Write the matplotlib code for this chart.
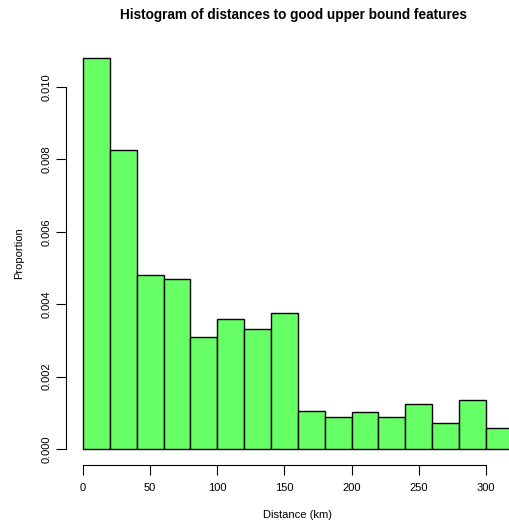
import numpy as np
import matplotlib
matplotlib.use("Agg")
import matplotlib.pyplot as plt

plt.rcParams['font.family'] = ['Liberation Sans', 'DejaVu Sans']

# histogram bins (km) and density values
bin_edges = [0, 20, 40, 60, 80, 100, 120, 140, 160, 180, 200, 220, 240, 260, 280, 300, 320]
proportion = [0.01080, 0.00826, 0.00481, 0.00469, 0.00309, 0.00358, 0.00331, 0.00377,
              0.00106, 0.00088, 0.00103, 0.00088, 0.00123, 0.00073, 0.00134, 0.00057]
x_ticks = [0, 50, 100, 150, 200, 250, 300]
y_ticks = [0.000, 0.002, 0.004, 0.006, 0.008, 0.010]

fig = plt.figure(figsize=(5.09, 5.20), dpi=100)
# plot region runs past the right edge, as in the cropped original
ax = fig.add_axes([0.1293, 0.1065, 0.9117, 0.8120])

left = np.array(bin_edges[:-1])
width = np.diff(bin_edges)
ax.bar(left, proportion, width=width, align='edge', color='#66ff66',
       edgecolor='black', linewidth=1.0)

ax.set_xlim(-12.8, 332.8)
ax.set_ylim(-0.000432, 0.011232)

ax.set_xticks(x_ticks)
ax.set_xticklabels([str(t) for t in x_ticks])
ax.set_yticks(y_ticks)
ax.set_yticklabels(["%.3f" % t for t in y_ticks], rotation=90, va='center')

for s in ['top', 'right']:
    ax.spines[s].set_visible(False)
ax.spines['bottom'].set_bounds(0, 300)
ax.spines['left'].set_bounds(0, 0.010)
ax.tick_params(direction='out', length=7, width=0.8, labelsize=8)
ax.tick_params(axis='x', pad=6.5)
ax.tick_params(axis='y', pad=3.5)

ax.set_xlabel("Distance (km)", fontsize=8, labelpad=12)
ax.set_ylabel("Proportion", fontsize=8, labelpad=12)
fig.text(0.576, 0.972, "Histogram of distances to good upper bound features",
         ha='center', va='center', fontsize=9.8, fontweight='bold')

fig.savefig("out.png", dpi=100)
